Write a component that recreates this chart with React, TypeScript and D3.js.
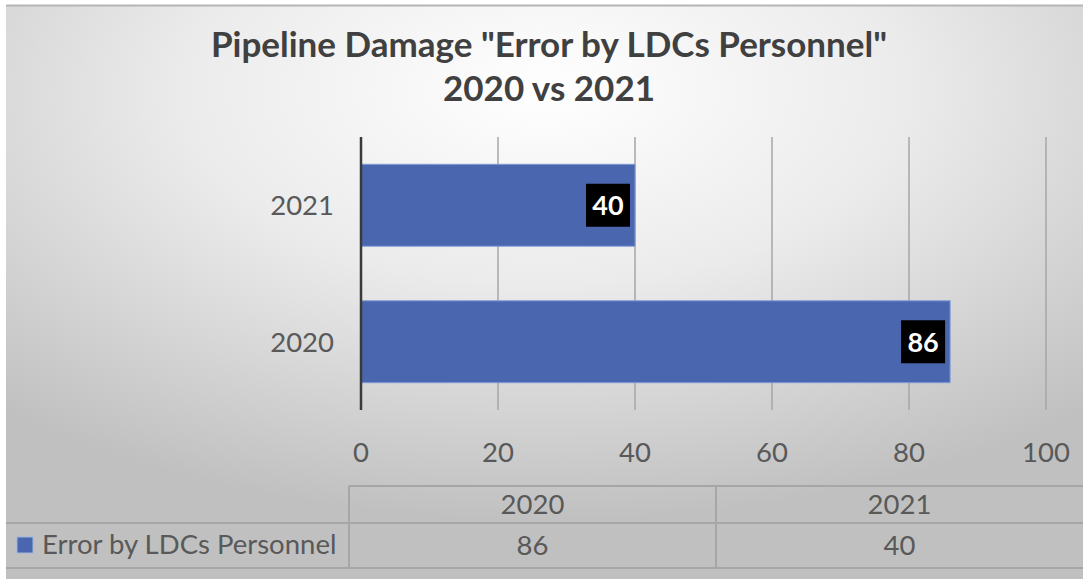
import React from "react";
import * as d3 from "d3";

const title1 = 'Pipeline Damage "Error by LDCs Personnel"';
const title2 = "2020 vs 2021";
const categories = ["2021", "2020"];
const values = [40, 86];
const tableYears = ["2020", "2021"];
const tableValues = [86, 40];
const seriesName = "Error by LDCs Personnel";
const xTicks = [0, 20, 40, 60, 80, 100];

const W = 1083;
const H = 579;
const FONT = "Lato, 'Open Sans', sans-serif";
const FS = 27.5;

export default function App() {
  const x = d3.scaleLinear().domain([0, 100]).range([361, 1046]);
  const y = d3.scaleBand().domain(categories).range([137, 410]).paddingInner(0.4).paddingOuter(0.2);
  const tableX = d3.scaleBand().domain(tableYears).range([349, 1083]);
  const blue = "#4a66ae";
  const textCol = "#595959";
  return (
    <svg width={W} height={H} style={{ position: "absolute", left: 0, top: 0 }}>
      <defs>
        <radialGradient id="bg" cx="50%" cy="15%" r="75%" gradientUnits="objectBoundingBox">
          <stop offset="0%" stopColor="#ffffff" />
          <stop offset="45%" stopColor="#ebebeb" />
          <stop offset="100%" stopColor="#c0c0c0" />
        </radialGradient>
      </defs>
      <rect x={0} y={0} width={W} height={H} fill="#fff" />
      <rect x={6} y={5} width={W - 6} height={H - 5} fill="url(#bg)" />
      <line x1={6} x2={W} y1={5.5} y2={5.5} stroke="#b5b5b5" strokeWidth={2} />
      <text x={549} y={57} textAnchor="middle" fontFamily={FONT} fontWeight="bold" fontSize={35} fill="#404040">{title1}</text>
      <text x={549} y={101} textAnchor="middle" fontFamily={FONT} fontWeight="bold" fontSize={35} fill="#404040">{title2}</text>
      {xTicks.slice(1).map((t) => (
        <line key={t} x1={x(t)} x2={x(t)} y1={137} y2={410} stroke="#a6a6a6" strokeWidth={1.5} />
      ))}
      {categories.map((c, i) => (
        <g key={c}>
          <rect x={x(0)} y={y(c)} width={x(values[i]) - x(0)} height={y.bandwidth()} fill={blue} stroke="#7f9ad6" strokeWidth={1} />
          <rect x={x(values[i]) - 49} y={y(c)! + y.bandwidth() / 2 - 21.5} width={44} height={43} fill="#000" />
          <text x={x(values[i]) - 27} y={y(c)! + y.bandwidth() / 2 + 10} textAnchor="middle" fontFamily={FONT} fontWeight="bold" fontSize={27} fill="#fff">{values[i]}</text>
          <text x={334} y={y(c)! + y.bandwidth() / 2 + 10} textAnchor="end" fontFamily={FONT} fontSize={FS} fill={textCol}>{c}</text>
        </g>
      ))}
      <line x1={x(0)} x2={x(0)} y1={137} y2={410} stroke="#3a3a3a" strokeWidth={2.5} />
      {xTicks.map((t) => (
        <text key={t} x={x(t)} y={462} textAnchor="middle" fontFamily={FONT} fontSize={FS} fill={textCol}>{t}</text>
      ))}
      <g stroke="#a6a6a6" strokeWidth={2}>
        <line x1={349} x2={W} y1={486} y2={486} />
        <line x1={6} x2={W} y1={523} y2={523} />
        <line x1={6} x2={W} y1={568} y2={568} />
        <line x1={349} x2={349} y1={486} y2={568} />
        <line x1={716} x2={716} y1={486} y2={568} />
      </g>
      {tableYears.map((yr, i) => (
        <g key={yr}>
          <text x={tableX(yr)! + tableX.bandwidth() / 2} y={514} textAnchor="middle" fontFamily={FONT} fontSize={FS} fill={textCol}>{yr}</text>
          <text x={tableX(yr)! + tableX.bandwidth() / 2} y={555} textAnchor="middle" fontFamily={FONT} fontSize={FS} fill={textCol}>{tableValues[i]}</text>
        </g>
      ))}
      <rect x={17} y={537} width={16} height={16} fill={blue} stroke="#9fb4e0" strokeWidth={1} />
      <text x={42} y={554} fontFamily={FONT} fontSize={FS} fill={textCol}>{seriesName}</text>
    </svg>
  );
}
